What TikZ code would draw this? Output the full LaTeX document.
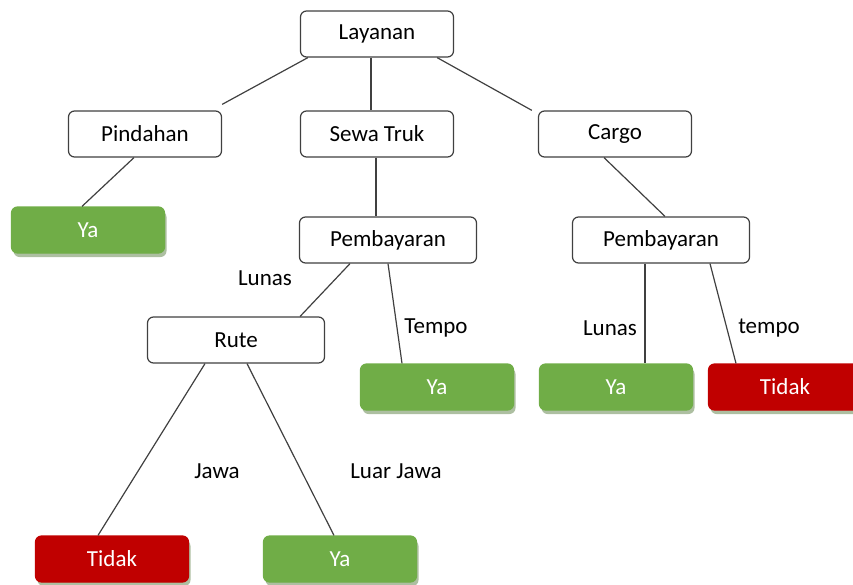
\documentclass[tikz,border=0pt]{standalone}
\usepackage{fontspec}
\setmainfont{Carlito}
\usetikzlibrary{shadows}
\definecolor{vert}{HTML}{70AD47}
\definecolor{rouge}{HTML}{C00000}
\tikzset{
  boite/.style={draw=black!75, line width=1.2pt, rounded corners=6pt, fill=white,
    minimum width=153pt, minimum height=46pt, inner sep=0pt},
  large/.style={minimum width=177pt},
  oui/.style={boite, draw=vert, fill=vert, text=white,
    drop shadow={shadow xshift=2pt, shadow yshift=-4pt, fill=black!35!vert!45, opacity=1}},
  non/.style={boite, draw=rouge, fill=rouge, text=white,
    drop shadow={shadow xshift=2pt, shadow yshift=-4pt, fill=black!35!vert!45, opacity=1}},
  lien/.style={draw=black!75, line width=1.2pt}
}
\begin{document}
\begin{tikzpicture}[x=1pt, y=-1pt, font=\fontsize{23}{27}\selectfont]
\useasboundingbox (0,0) rectangle (853,584);
% Noeuds
\node[boite] (lay) at (377,34) {Layanan};
\node[boite] (pin) at (145,134) {Pindahan};
\node[boite] (sewa) at (377,134) {Sewa Truk};
\node[boite] (cargo) at (615,134) {Cargo};
\node[oui] (ya1) at (88,230) {Ya};
\node[boite, large] (pem1) at (388,240) {Pembayaran};
\node[boite, large] (pem2) at (661,240) {Pembayaran};
\node[boite, large] (rute) at (236,340) {Rute};
\node[oui] (ya2) at (437,387) {Ya};
\node[oui] (ya3) at (616,387) {Ya};
\node[non] (tidak1) at (785,387) {Tidak};
\node[non] (tidak2) at (112,559) {Tidak};
\node[oui] (ya4) at (340,559) {Ya};
% Liens
\draw[lien] ([xshift=8pt]lay.south west) -- ([yshift=6pt]pin.north east);
\draw[lien] ([xshift=-6pt]lay.south) -- ([xshift=-6pt]sewa.north);
\draw[lien] ([xshift=-17pt]lay.south east) -- ([xshift=-6pt]cargo.north west);
\draw[lien] ([xshift=-11pt]pin.south) -- ([xshift=-6pt]ya1.north);
\draw[lien] ([xshift=-1pt]sewa.south) -- ([xshift=-12pt]pem1.north);
\draw[lien] ([xshift=-11pt]cargo.south) -- ([xshift=4pt]pem2.north);
\draw[lien] ([xshift=-38pt]pem1.south) -- ([xshift=-25pt]rute.north east);
\draw[lien] (pem1.south) -- ([xshift=-35pt]ya2.north);
\draw[lien] ([xshift=-16pt]pem2.south) -- ([xshift=29pt]ya3.north);
\draw[lien] ([xshift=49pt]pem2.south) -- ([xshift=-49pt]tidak1.north);
\draw[lien] ([xshift=-31pt]rute.south) -- ([xshift=-14pt]tidak2.north);
\draw[lien] ([xshift=11pt]rute.south) -- ([xshift=-6pt]ya4.north);
% Etiquettes
\node (lunas1) at (265,278) {Lunas};
\node (tempo1) at (436,328) {Tempo};
\node (lunas2) at (610,328) {Lunas};
\node (tempo2) at (769,328) {tempo};
\node (jawa) at (217,471) {Jawa};
\node (luar) at (396,471) {Luar Jawa};
\end{tikzpicture}
\end{document}
